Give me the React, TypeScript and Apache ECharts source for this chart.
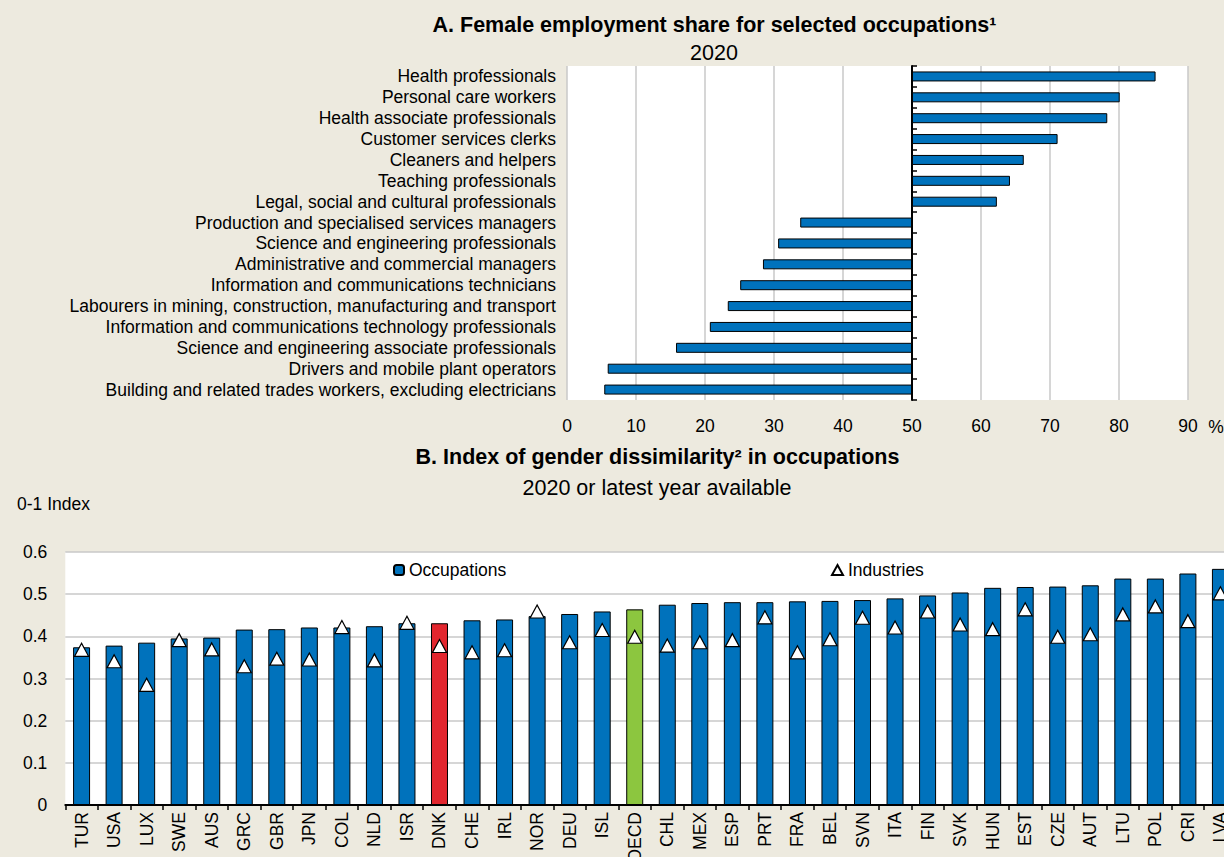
import React, { useEffect, useRef } from "react";
import * as echarts from "echarts";

const occupations = [
  "Health professionals",
  "Personal care workers",
  "Health associate professionals",
  "Customer services clerks",
  "Cleaners and helpers",
  "Teaching professionals",
  "Legal, social and cultural professionals",
  "Production and specialised services managers",
  "Science and engineering professionals",
  "Administrative and commercial managers",
  "Information and communications technicians",
  "Labourers in mining, construction, manufacturing and transport",
  "Information and communications technology professionals",
  "Science and engineering associate professionals",
  "Drivers and mobile plant operators",
  "Building and related trades workers, excluding electricians",
];
const femaleShare = [85.3, 80.1, 78.3, 71.1, 66.2, 64.2, 62.3, 33.8, 30.6, 28.4, 25.1, 23.3, 20.7, 15.8, 5.9, 5.4];
const shareMidpoint = 50;

const countries = [
  "TUR", "USA", "LUX", "SWE", "AUS", "GRC", "GBR", "JPN", "COL", "NLD", "ISR", "DNK",
  "CHE", "IRL", "NOR", "DEU", "ISL", "OECD", "CHL", "MEX", "ESP", "PRT", "FRA", "BEL",
  "SVN", "ITA", "FIN", "SVK", "HUN", "EST", "CZE", "AUT", "LTU", "POL", "CRI", "LVA",
];
const occupationIndex = [
  0.374, 0.378, 0.385, 0.395, 0.397, 0.416, 0.417, 0.421, 0.421, 0.424, 0.431, 0.431,
  0.438, 0.44, 0.448, 0.453, 0.459, 0.464, 0.475, 0.479, 0.481, 0.481, 0.483, 0.484,
  0.486, 0.49, 0.497, 0.504, 0.515, 0.517, 0.518, 0.521, 0.537, 0.537, 0.549, 0.56,
];
const industryIndex = [
  0.368, 0.341, 0.285, 0.391, 0.369, 0.329, 0.347, 0.345, 0.422, 0.343, 0.432, 0.377,
  0.362, 0.367, 0.459, 0.386, 0.415, 0.399, 0.378, 0.386, 0.391, 0.445, 0.362, 0.393,
  0.444, 0.421, 0.459, 0.428, 0.417, 0.464, 0.399, 0.405, 0.452, 0.471, 0.436, 0.502,
];
const highlightColors: Record<string, string> = { DNK: "#E2262E", OECD: "#8CC63F" };

const BLUE = "#0072BC";
const FONT = '"Liberation Sans", Arial, sans-serif';
const BG = "#EDEADF";
const GRID_GRAY = "#C8C8C8";

export default function App() {
  const ref = useRef<HTMLDivElement>(null);

  useEffect(() => {
    if (!ref.current) return;
    const chart = echarts.init(ref.current, null, { renderer: "svg" });

    const txt = (text: string, x: number, y: number, size: number, bold: boolean, align = "center") => ({
      type: "text",
      x,
      y,
      silent: true,
      style: {
        text,
        x: 0,
        y: 0,
        fill: "#000",
        font: `${bold ? "bold " : ""}${size}px ${FONT}`,
        fontSize: size,
        fontWeight: bold ? "bold" : "normal",
        fontFamily: FONT,
        align,
        verticalAlign: "middle",
        textAlign: align,
        textVerticalAlign: "middle",
      },
    });

    const option: any = {
      animation: false,
      backgroundColor: "transparent",
      textStyle: { fontFamily: FONT, color: "#000" },
      graphic: [
        txt("A. Female employment share for selected occupations\u00B9", 714.5, 25, 21.5, true),
        txt("2020", 714, 53, 21.5, false),
        txt("B. Index of gender dissimilarity\u00B2 in occupations", 657.5, 457, 21.5, true),
        txt("2020 or latest year available", 657, 488, 21.5, false),
        txt("0-1 Index", 17, 504, 17.5, false, "left"),
        txt("%", 1216, 427, 17.5, false),
      ],
      legend: [
        {
          data: ["Occupations"],
          left: 388,
          top: 556,
          itemWidth: 10,
          itemHeight: 10,
          selectedMode: false,
          textStyle: { fontSize: 17.5, fontFamily: FONT, color: "#000" },
        },
        {
          data: ["Industries"],
          left: 826,
          top: 556,
          itemWidth: 11,
          itemHeight: 10,
          selectedMode: false,
          textStyle: { fontSize: 17.5, fontFamily: FONT, color: "#000" },
        },
      ],
      grid: [
        { left: 567, top: 66, width: 621, height: 334, show: true, backgroundColor: "#fff", borderWidth: 0 },
        { left: 65.3, top: 552, width: 1171.4, height: 253, show: true, backgroundColor: "#fff", borderWidth: 0 },
      ],
      xAxis: [
        {
          gridIndex: 0,
          type: "value",
          min: 0 - shareMidpoint,
          max: 90 - shareMidpoint,
          interval: 10,
          axisLine: { show: false },
          axisTick: { show: false },
          axisLabel: {
            fontSize: 17.5,
            margin: 17,
            color: "#000",
            fontFamily: FONT,
            formatter: (v: number) => String(Math.round(v + shareMidpoint)),
          },
          splitLine: { show: true, lineStyle: { color: GRID_GRAY, width: 1.5 } },
        },
        {
          gridIndex: 1,
          type: "category",
          data: countries,
          axisLine: { show: true, lineStyle: { color: "#000", width: 2 } },
          axisTick: { show: true, length: 5, lineStyle: { color: "#000", width: 1.5 } },
          axisLabel: {
            interval: 0,
            rotate: 90,
            fontSize: 17.5,
            margin: 7,
            color: "#000",
            fontFamily: FONT,
          },
          splitLine: { show: false },
        },
      ],
      yAxis: [
        {
          gridIndex: 0,
          type: "category",
          data: occupations,
          inverse: true,
          axisLine: { show: false, onZero: false },
          axisTick: { show: false },
          axisLabel: { interval: 0, fontSize: 17.5, margin: 11, color: "#000", fontFamily: FONT },
        },
        {
          gridIndex: 0,
          type: "category",
          data: occupations,
          inverse: true,
          position: "left",
          axisLine: { show: true, onZero: true, lineStyle: { color: "#000", width: 2 } },
          axisTick: { show: true, inside: true, interval: 0, length: 5, lineStyle: { color: "#000", width: 1.5 } },
          axisLabel: { show: false },
        },
        {
          gridIndex: 1,
          type: "value",
          min: 0,
          max: 0.6,
          interval: 0.1,
          axisLine: { show: false },
          axisTick: { show: false },
          axisLabel: { fontSize: 17.5, margin: 18, color: "#000", fontFamily: FONT },
          splitLine: { show: true, lineStyle: { color: GRID_GRAY, width: 1.5 } },
        },
      ],
      series: [
        {
          name: "Female share",
          type: "bar",
          xAxisIndex: 0,
          yAxisIndex: 0,
          data: femaleShare.map((v) => v - shareMidpoint),
          barWidth: 10,
          itemStyle: { color: BLUE, borderColor: "#000", borderWidth: 1 },
          z: 3,
        },
        {
          name: "Occupations",
          type: "bar",
          xAxisIndex: 1,
          yAxisIndex: 2,
          data: countries.map((c, i) => ({
            value: occupationIndex[i],
            itemStyle: highlightColors[c] ? { color: highlightColors[c] } : undefined,
          })),
          barWidth: 17,
          itemStyle: { color: BLUE, borderColor: "#000", borderWidth: 1 },
          z: 2,
        },
        {
          name: "Industries",
          type: "scatter",
          xAxisIndex: 1,
          yAxisIndex: 2,
          data: industryIndex,
          symbol: "triangle",
          symbolSize: [14, 13],
          itemStyle: { color: "#fff", borderColor: "#000", borderWidth: 1.2, opacity: 1 },
          z: 4,
        },
      ],
    };

    chart.setOption(option);
    return () => chart.dispose();
  }, []);

  return (
    <div
      style={{
        position: "fixed",
        left: 0,
        top: 0,
        width: 1224,
        height: 857,
        overflow: "hidden",
        background: BG,
      }}
    >
      <div ref={ref} style={{ position: "absolute", left: 0, top: 0, width: 1240, height: 880 }} />
    </div>
  );
}
